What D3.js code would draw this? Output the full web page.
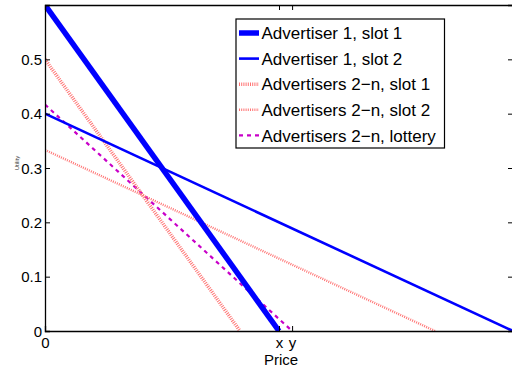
<!DOCTYPE html>
<html>
<head>
<meta charset="utf-8">
<script src="https://cdn.jsdelivr.net/npm/d3@7"></script>
<style>
  html, body { margin: 0; padding: 0; background: #fff; }
  svg { display: block; font-family: "Liberation Sans", Arial, sans-serif; }
</style>
</head>
<body>
<svg id="chart" width="512" height="371"></svg>
<script>
// Utility as a function of price: each series is a straight line from its
// intercept at price 0 down to zero utility at its break-even price.
const seriesNames = [
  "Advertiser 1, slot 1",
  "Advertiser 1, slot 2",
  "Advertisers 2\u2212n, slot 1",
  "Advertisers 2\u2212n, slot 2",
  "Advertisers 2\u2212n, lottery"
];
const intercepts = [0.6, 0.4, 0.5, 0.3333, 0.4167];   // utility at price 0
const zeroPrices = [0.5, 1.0, 0.4167, 0.8333, 0.528]; // price where utility reaches 0

const yTickValues = [0, 0.1, 0.2, 0.3, 0.4, 0.5];
const xTickValues = [0, 0.5, 0.528];
const xTickLabels = ["0", "x", "y"];

const styles = [
  { color: "#0000ff", width: 5.5, dash: null },
  { color: "#0000ff", width: 2.6, dash: null },
  { color: "#ff7373", width: 3.6, dash: "1,1.2" },
  { color: "#ff7373", width: 2.4, dash: "1,1.2" },
  { color: "#c800c8", width: 2.2, dash: "4,4" }
];

const svg = d3.select("#chart");
const m = { left: 45, top: 5, right: 513, bottom: 331 };

const x = d3.scaleLinear().domain([0, 1]).range([m.left, m.right]);
const y = d3.scaleLinear().domain([0, 0.6]).range([m.bottom, m.top]);

svg.append("clipPath").attr("id", "plot-clip")
  .append("rect")
  .attr("x", m.left).attr("y", m.top)
  .attr("width", m.right - m.left).attr("height", m.bottom - m.top);

// series lines
const lines = seriesNames.map((name, i) => ({
  name,
  pts: [[0, intercepts[i]], [zeroPrices[i], 0]],
  style: styles[i]
}));

const lineGen = d3.line().x(d => x(d[0])).y(d => y(d[1]));
const plot = svg.append("g").attr("clip-path", "url(#plot-clip)");
// draw in reverse order so the thick blue lines sit on top
lines.slice().reverse().forEach(s => {
  plot.append("path")
    .attr("d", lineGen(s.pts))
    .attr("fill", "none")
    .attr("stroke", s.style.color)
    .attr("stroke-width", s.style.width)
    .attr("stroke-dasharray", s.style.dash);
});

// axes (ticks point inward, box on all four sides)
const tickFont = "15px";
const leftAxis = d3.axisLeft(y).tickValues(yTickValues).tickSize(-5).tickPadding(3)
  .tickFormat(d => d === 0 ? "0" : d3.format(".1f")(d));
const gL = svg.append("g").attr("transform", `translate(${m.left},0)`).call(leftAxis);

const bottomAxis = d3.axisBottom(x).tickValues(xTickValues).tickSize(-5).tickPadding(6)
  .tickFormat((d, i) => xTickLabels[i]);
const gB = svg.append("g").attr("transform", `translate(0,${m.bottom})`).call(bottomAxis);

const gR = svg.append("g").attr("transform", `translate(${m.right},0)`)
  .call(d3.axisRight(y).tickValues(yTickValues).tickSize(-5).tickFormat(""));
const gT = svg.append("g").attr("transform", `translate(0,${m.top})`)
  .call(d3.axisTop(x).tickValues(xTickValues.slice(1)).tickSize(-5).tickFormat(""));

[gL, gB, gR, gT].forEach(g => {
  g.attr("font-size", null).attr("font-family", null);
  g.select(".domain").attr("stroke", "#000").attr("stroke-width", 1.3);
  g.selectAll(".tick line").attr("stroke", "#000").attr("stroke-width", 1);
  g.selectAll(".tick text").attr("fill", "#000")
    .style("font-size", tickFont)
    .style("font-family", "'Liberation Sans', Arial, sans-serif");
});
gL.selectAll(".tick text").attr("dy", "0.35em");
gB.selectAll(".tick text").attr("dy", "0.71em");
gB.selectAll(".tick line").filter(d => d === 0).remove();
gL.selectAll(".tick line").filter(d => d === 0).remove();

// axis titles
svg.append("text")
  .attr("x", 281).attr("y", 365)
  .attr("text-anchor", "middle")
  .style("font-size", "15px")
  .text("Price");
svg.append("text")
  .attr("transform", "translate(19,163) rotate(-90)")
  .attr("text-anchor", "middle")
  .style("font-size", "6px")
  .attr("fill", "#333")
  .text("Utility");

// legend
const leg = svg.append("g");
leg.append("rect")
  .attr("x", 236).attr("y", 19)
  .attr("width", 208.5).attr("height", 129)
  .attr("fill", "#fff").attr("stroke", "#000").attr("stroke-width", 1.2);
lines.forEach((s, i) => {
  const cy = 33 + i * 25.6;
  leg.append("line")
    .attr("x1", 239).attr("x2", 259).attr("y1", cy).attr("y2", cy)
    .attr("stroke", s.style.color)
    .attr("stroke-width", s.style.width)
    .attr("stroke-dasharray", s.style.dash);
  leg.append("text")
    .attr("x", 261.5).attr("y", cy).attr("dy", "0.36em")
    .style("font-size", "17px")
    .text(s.name);
});
</script>
</body>
</html>
